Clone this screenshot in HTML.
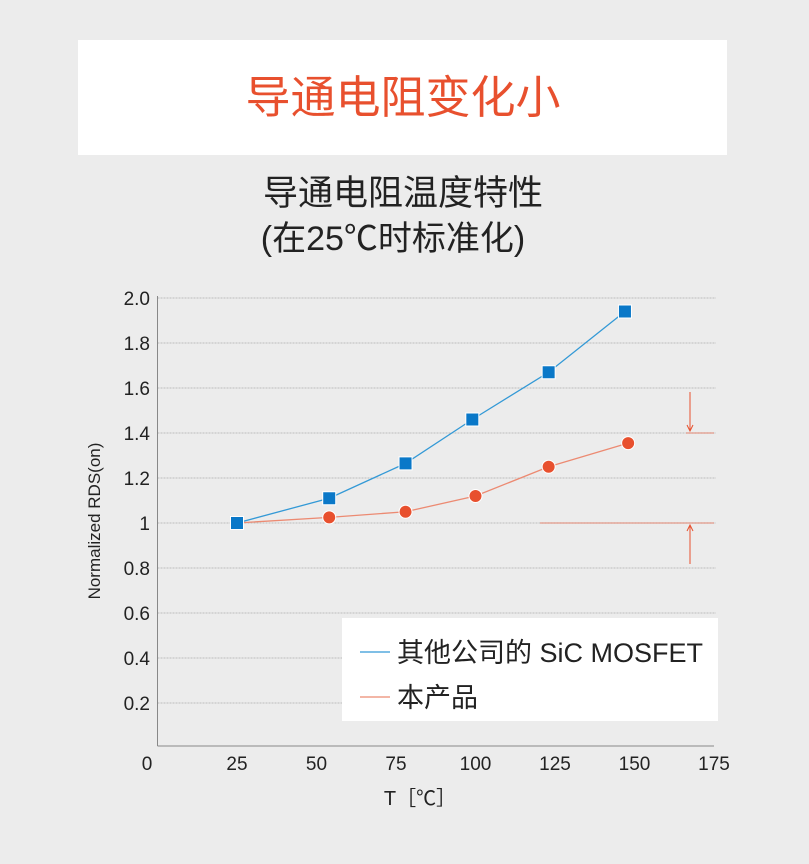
<!DOCTYPE html>
<html><head><meta charset="utf-8"><style>
body{margin:0;width:809px;height:859px;background:#ececec;font-family:"Liberation Sans","Noto Sans CJK SC",sans-serif;overflow:hidden}
</style></head><body>
<svg width="809" height="859" xmlns="http://www.w3.org/2000/svg" id="svg" font-family="Liberation Sans, Noto Sans CJK SC, sans-serif">
<rect x="78" y="40" width="649" height="115" fill="#fff"/>
<text x="403" y="113" font-size="45" fill="#e8502e" text-anchor="middle">导通电阻变化小</text>
<text x="403" y="205" font-size="35" fill="#222" text-anchor="middle">导通电阻温度特性</text>
<text x="393" y="250" font-size="34" fill="#222" text-anchor="middle">(在25℃时标准化)</text>
<g id="grid"></g><g id="marks"></g>
<line x1="157.5" y1="296" x2="157.5" y2="746" stroke="#888"/>
<line x1="157.5" y1="746" x2="714" y2="746" stroke="#888"/>
<text x="100" y="521" font-size="17" fill="#222" text-anchor="middle" transform="rotate(-90 100 521)">Normalized RDS(on)</text>
<text x="420" y="805" font-size="20" fill="#222" text-anchor="middle">T［℃］</text>
<g stroke="#e8502e" fill="none" stroke-width="1">
<line x1="686" y1="433" x2="714" y2="433" opacity="0.6"/>
<line x1="540" y1="523" x2="714" y2="523" opacity="0.6"/>
<line x1="690" y1="392" x2="690" y2="430"/><path d="M687 425 L690 431 L693 425"/>
<line x1="690" y1="564" x2="690" y2="526"/><path d="M687 531 L690 525 L693 531"/>
</g>
<g>
<rect x="342" y="618" width="376" height="103" fill="#fff"/>
<line x1="360" y1="652" x2="390" y2="652" stroke="#3399d6" stroke-width="1.2"/>
<text x="397" y="662" font-size="27" fill="#222">其他公司的 SiC MOSFET</text>
<line x1="360" y1="697" x2="390" y2="697" stroke="#ec8a72" stroke-width="1.2"/>
<text x="397" y="707" font-size="27" fill="#222">本产品</text>
</g>
</svg>
<script>
const xTicks=[0,25,50,75,100,125,150,175];
const yTicks=[0.2,0.4,0.6,0.8,1,1.2,1.4,1.6,1.8,2.0];
const yLabels=["0.2","0.4","0.6","0.8","1","1.2","1.4","1.6","1.8","2.0"];
const otherT=[25,54,78,99,123,147];
const otherV=[1.0,1.11,1.265,1.46,1.67,1.94];
const oursT=[25,54,78,100,123,148];
const oursV=[1.0,1.025,1.05,1.12,1.25,1.355];
const X=t=>157.5+t*3.18, Y=v=>748-v*225;
const NS="http://www.w3.org/2000/svg";
const svg=document.getElementById('svg'),grid=document.getElementById('grid'),marks=document.getElementById('marks');
function mk(tag,attrs,parent){const e=document.createElementNS(NS,tag);for(const k in attrs)e.setAttribute(k,attrs[k]);parent.appendChild(e);return e;}
yTicks.forEach((v,i)=>{
 const l=mk('line',{x1:157.5,x2:716,y1:Y(v),y2:Y(v),stroke:'#bdbdbd','stroke-width':1,'stroke-dasharray':'2 1'},grid);
 
 
 const t=mk('text',{x:150,y:Y(v)+7,'font-size':19,fill:'#222','text-anchor':'end'},grid);
 t.textContent=yLabels[i];
 
 
});
xTicks.forEach(v=>{
 const t=mk('text',{x:v===0?147:X(v),y:770,'font-size':19,fill:'#222','text-anchor':'middle'},grid);
 t.textContent=v;
 
 
});
function series(ts,vs,color,lineColor,shape,name){
 const p=mk('polyline',{points:ts.map((t,i)=>X(t)+','+Y(vs[i])).join(' '),fill:'none',stroke:lineColor,'stroke-width':1.3},marks);
 
 
 ts.forEach((t,i)=>{
  let m;
  if(shape==='sq')m=mk('rect',{x:X(t)-6.5,y:Y(vs[i])-6.5,width:13,height:13,fill:color,stroke:'#fff','stroke-width':1},marks);
  else m=mk('circle',{cx:X(t),cy:Y(vs[i]),r:6.5,fill:color,stroke:'#fff','stroke-width':1},marks);
  
  
 });
}
series(oursT,oursV,'#e8502e','#ec8a72','c','ours');
series(otherT,otherV,'#0a78c8','#3399d6','sq','other');
</script>
</body></html>
